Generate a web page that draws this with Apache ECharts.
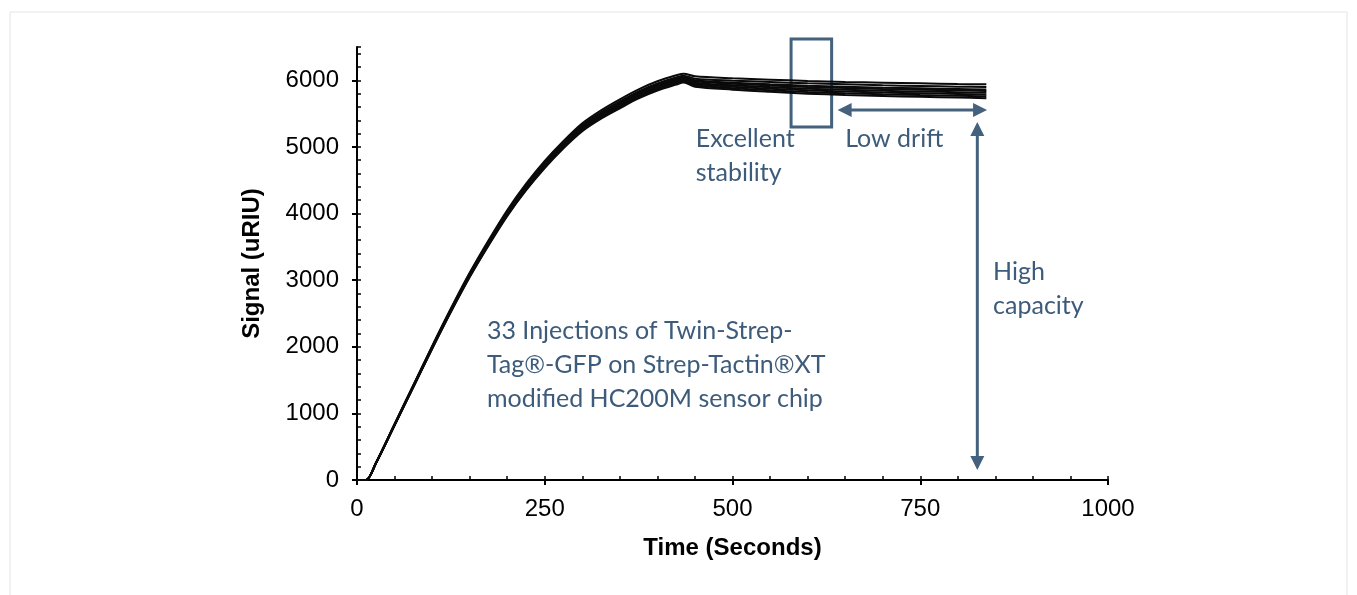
<!DOCTYPE html>
<html>
<head>
<meta charset="utf-8">
<script src="https://cdn.jsdelivr.net/npm/echarts@6/dist/echarts.min.js"></script>
<style>
html, body { margin: 0; padding: 0; background: #fff; }
#chartDom { width: 1357px; height: 595px; }
</style>
</head>
<body>
<div id="chartDom"></div>
<script>
// time points (s)
var times = [0, 12, 25, 50, 75, 100, 125, 150, 175, 200, 225, 250, 275, 300, 325, 350, 375, 400, 425, 435, 450, 500, 550, 600, 650, 700, 750, 800, 838];

// signal (uRIU), a handful of traces spanning the band of 33 injections
var inj1 = [0, 0, 255, 840, 1425, 2010, 2575, 3110, 3595, 4050, 4445, 4790, 5090, 5355, 5550, 5715, 5865, 5985, 6075, 6100, 6060, 6030, 6010, 5990, 5975, 5965, 5955, 5945, 5940];
var inj2 = [0, 0, 252, 835, 1418, 2000, 2562, 3095, 3578, 4030, 4422, 4765, 5065, 5328, 5520, 5682, 5832, 5952, 6042, 6070, 6025, 5995, 5975, 5955, 5940, 5925, 5915, 5905, 5898];
var inj3 = [0, 0, 250, 832, 1412, 1993, 2553, 3084, 3565, 4015, 4406, 4748, 5048, 5310, 5500, 5660, 5810, 5930, 6020, 6050, 6000, 5965, 5940, 5920, 5905, 5890, 5880, 5870, 5862];
var inj4 = [0, 0, 249, 830, 1410, 1990, 2550, 3080, 3560, 4010, 4400, 4740, 5040, 5300, 5490, 5650, 5800, 5920, 6010, 6040, 5985, 5950, 5922, 5900, 5885, 5870, 5860, 5850, 5840];
var inj5 = [0, 0, 248, 827, 1405, 1984, 2543, 3071, 3550, 3998, 4387, 4726, 5025, 5284, 5474, 5633, 5782, 5902, 5992, 6022, 5965, 5925, 5898, 5875, 5858, 5843, 5832, 5822, 5812];
var inj6 = [0, 0, 247, 824, 1401, 1978, 2536, 3062, 3540, 3986, 4374, 4712, 5010, 5268, 5457, 5616, 5764, 5884, 5974, 6004, 5945, 5905, 5875, 5850, 5832, 5816, 5805, 5795, 5785];
var inj7 = [0, 0, 246, 821, 1396, 1972, 2528, 3053, 3529, 3974, 4360, 4698, 4995, 5252, 5440, 5598, 5745, 5865, 5955, 5985, 5925, 5880, 5850, 5825, 5805, 5790, 5778, 5768, 5758];
var inj8 = [0, 0, 245, 818, 1392, 1966, 2521, 3044, 3518, 3962, 4347, 4684, 4980, 5236, 5424, 5580, 5728, 5846, 5936, 5966, 5905, 5860, 5828, 5800, 5780, 5765, 5752, 5742, 5732];

var traces = [inj1, inj2, inj3, inj4, inj5, inj6, inj7, inj8];

var noteBlock = ['33 Injections of Twin-Strep-', 'Tag®-GFP on Strep-Tactin®XT', 'modified HC200M sensor chip'];

var ink = '#44617d';
var noteColor = '#3d5b7a';
var noteFont = '25px Lato';

var myChart = echarts.init(document.getElementById('chartDom'));

var axisFont = { fontFamily: 'Liberation Sans', fontSize: 24, color: '#000' };
var plain = function (v) { return String(v); };

option = {
    animation: false,
    grid: { left: 357, right: 249, top: 47, bottom: 115 },
    xAxis: [{
        type: 'value', min: 0, max: 1000, interval: 250,
        name: 'Time (Seconds)', nameLocation: 'middle', nameGap: 56,
        nameTextStyle: { fontFamily: 'Liberation Sans', fontSize: 24, fontWeight: 'bold', color: '#000' },
        axisLine: { lineStyle: { color: '#000', width: 2 } },
        axisTick: { length: 5, lineStyle: { color: '#000', width: 2 } },
        axisLabel: Object.assign({ margin: 17, formatter: plain }, axisFont),
        splitLine: { show: false }
    }, {
        type: 'value', min: 0, max: 1000, interval: 50, position: 'bottom',
        axisLine: { show: false },
        axisTick: { inside: true, length: 4, lineStyle: { color: '#000', width: 1.5 } },
        axisLabel: { show: false },
        splitLine: { show: false }
    }],
    yAxis: [{
        type: 'value', min: 0, max: 6500, interval: 1000,
        name: 'Signal (uRIU)', nameLocation: 'middle', nameGap: 93,
        nameTextStyle: { fontFamily: 'Liberation Sans', fontSize: 24, fontWeight: 'bold', color: '#000' },
        axisLine: { show: true, lineStyle: { color: '#000', width: 2 } },
        axisTick: { show: true, length: 5, lineStyle: { color: '#000', width: 2 } },
        axisLabel: Object.assign({ margin: 18, showMaxLabel: false, formatter: plain }, axisFont),
        splitLine: { show: false }
    }, {
        type: 'value', min: 0, max: 6500, interval: 200, position: 'left',
        axisLine: { show: false },
        axisTick: { show: true, inside: true, length: 4, lineStyle: { color: '#000', width: 1.5 } },
        axisLabel: { show: false },
        splitLine: { show: false }
    }],
    series: traces.map(function (tr) {
        return {
            type: 'line',
            xAxisIndex: 0,
            yAxisIndex: 0,
            data: times.map(function (t, i) { return [t, tr[i]]; }),
            smooth: 0.3,
            showSymbol: false,
            lineStyle: { color: '#0a0a0a', width: 2 }
        };
    })
};

myChart.setOption(option);

// annotations placed in data units
function px(t, v) {
    return myChart.convertToPixel({ xAxisIndex: 0, yAxisIndex: 0 }, [t, v]);
}

function head(tip, dx, dy) {
    var L = 14, W = 7;
    var bx = tip[0] - dx * L, by = tip[1] - dy * L;
    return {
        type: 'polygon',
        shape: { points: [tip, [bx - dy * W, by + dx * W], [bx + dy * W, by - dx * W]] },
        style: { fill: ink }
    };
}

function arrow(a, b) {
    var dx = b[0] - a[0], dy = b[1] - a[1];
    var len = Math.sqrt(dx * dx + dy * dy);
    dx /= len; dy /= len;
    return [{
        type: 'line',
        shape: { x1: a[0] + dx * 10, y1: a[1] + dy * 10, x2: b[0] - dx * 10, y2: b[1] - dy * 10 },
        style: { stroke: ink, lineWidth: 3 }
    }, head(b, dx, dy), head(a, -dx, -dy)];
}

function note(text, p, align) {
    return {
        type: 'text',
        style: {
            text: text, x: p[0], y: p[1], font: noteFont, fill: noteColor,
            lineHeight: 34, verticalAlign: align || 'middle'
        }
    };
}

var boxA = px(578, 6620), boxB = px(632, 5300);
var g = [{
    type: 'rect',
    shape: { x: 10, y: 12, width: 1337, height: 620 },
    style: { fill: 'none', stroke: '#e4e4e4', lineWidth: 1 }
}, {
    type: 'rect',
    shape: { x: boxA[0], y: boxA[1], width: boxB[0] - boxA[0], height: boxB[1] - boxA[1] },
    style: { fill: 'none', stroke: ink, lineWidth: 3 }
}];
g = g.concat(arrow(px(640, 5555), px(839, 5555)));
g = g.concat(arrow(px(826, 5375), px(826, 150)));

var pEx = px(451, 5120);
g.push(note('Excellent\nstability', [pEx[0], pEx[1] - 17], 'top'));
var pLow = px(650, 5120);
g.push(note('Low drift', pLow));
var pHigh = px(847, 3123);
g.push(note('High\ncapacity', [pHigh[0], pHigh[1] - 17], 'top'));
var pInj = px(173, 2237);
g.push(note(noteBlock.join('\n'), [pInj[0], pInj[1] - 17], 'top'));

myChart.setOption({ graphic: { elements: g } });
</script>
</body>
</html>
